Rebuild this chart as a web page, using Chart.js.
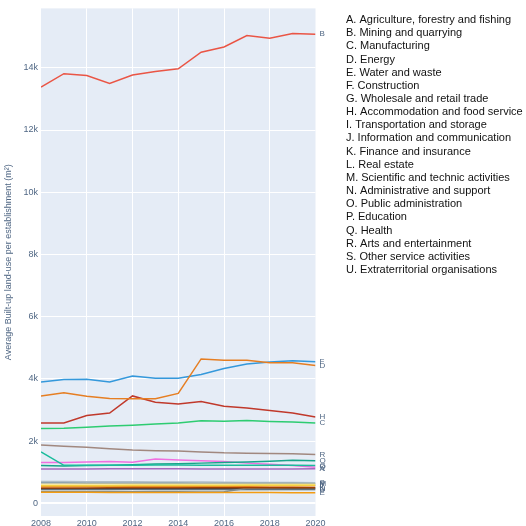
<!DOCTYPE html>
<html>
<head>
<meta charset="utf-8">
<script src="https://cdn.jsdelivr.net/npm/chart.js@4.4.1/dist/chart.umd.min.js"></script>
<style>
html, body { margin: 0; padding: 0; background: #fff; }
#wrap { width: 526px; height: 526px; }
</style>
</head>
<body>
<div id="wrap"><canvas id="chart" width="526" height="526"></canvas></div>
<script>
// Years on the x axis
const years = [2008, 2009, 2010, 2011, 2012, 2013, 2014, 2015, 2016, 2017, 2018, 2019, 2020];

// Sector names shown at the right
const sectorNames = [
    'A. Agriculture, forestry and fishing',
    'B. Mining and quarrying',
    'C. Manufacturing',
    'D. Energy',
    'E. Water and waste',
    'F. Construction',
    'G. Wholesale and retail trade',
    'H. Accommodation and food service',
    'I. Transportation and storage',
    'J. Information and communication',
    'K. Finance and insurance',
    'L. Real estate',
    'M. Scientific and technic activities',
    'N. Administrative and support',
    'O. Public administration',
    'P. Education',
    'Q. Health',
    'R. Arts and entertainment',
    'S. Other service activities',
    'U. Extraterritorial organisations'
];

// Average built-up land-use per establishment (m²), one array per sector
const valuesA = [1100, 1100, 1100, 1110, 1110, 1110, 1110, 1100, 1100, 1100, 1100, 1100, 1110];
const valuesB = [13380, 13810, 13750, 13500, 13770, 13880, 13970, 14500, 14670, 15040, 14950, 15100, 15080];
const valuesC = [2400, 2410, 2440, 2480, 2510, 2550, 2580, 2650, 2640, 2660, 2630, 2610, 2580];
const valuesD = [3450, 3550, 3440, 3370, 3360, 3360, 3530, 4640, 4600, 4600, 4520, 4520, 4430];
const valuesE = [350, 350, 350, 348, 348, 346, 346, 345, 345, 343, 342, 340, 340];
const valuesF = [3900, 3980, 3990, 3900, 4090, 4020, 4020, 4140, 4330, 4480, 4540, 4580, 4550];
const valuesG = [1650, 1220, 1220, 1220, 1220, 1230, 1230, 1220, 1220, 1220, 1220, 1220, 1210];
const valuesH = [2580, 2580, 2820, 2900, 3450, 3250, 3190, 3270, 3120, 3060, 2980, 2900, 2770];
const valuesI = [560, 562, 565, 565, 568, 570, 570, 572, 574, 575, 576, 578, 580];
const valuesJ = [530, 532, 535, 536, 538, 540, 542, 545, 548, 550, 552, 555, 560];
const valuesK = [490, 492, 493, 495, 495, 496, 497, 498, 498, 499, 500, 500, 500];
const valuesL = [380, 380, 375, 375, 370, 370, 370, 365, 370, 480, 490, 495, 495];
const valuesM = [610, 612, 612, 610, 610, 612, 612, 610, 610, 610, 610, 612, 610];
const valuesN = [470, 470, 470, 470, 470, 470, 470, 470, 470, 470, 470, 470, 470];
const valuesO = [1210, 1200, 1210, 1220, 1240, 1260, 1270, 1290, 1310, 1330, 1350, 1380, 1370];
const valuesP = [650, 648, 646, 645, 643, 640, 640, 638, 636, 635, 633, 632, 630];
const valuesQ = [1310, 1310, 1330, 1340, 1320, 1420, 1390, 1370, 1340, 1290, 1250, 1210, 1160];
const valuesR = [1870, 1830, 1800, 1750, 1710, 1690, 1680, 1650, 1620, 1610, 1600, 1590, 1570];
const valuesS = [700, 700, 695, 690, 690, 685, 680, 680, 675, 670, 670, 665, 660];
const valuesU = [440, 440, 440, 438, 438, 436, 436, 435, 435, 434, 432, 430, 430];

// Y tick values
const yTicks = [0, 2000, 4000, 6000, 8000, 10000, 12000, 14000];

const seriesList = [
    { code: 'A', values: valuesA, color: '#a569bd' },
    { code: 'B', values: valuesB, color: '#ea5545' },
    { code: 'C', values: valuesC, color: '#2ecc71' },
    { code: 'D', values: valuesD, color: '#e67e22' },
    { code: 'E', values: valuesE, color: '#f39c12' },
    { code: 'F', values: valuesF, color: '#3498db' },
    { code: 'G', values: valuesG, color: '#1abc9c' },
    { code: 'H', values: valuesH, color: '#c0392b' },
    { code: 'I', values: valuesI, color: '#f4d03f' },
    { code: 'J', values: valuesJ, color: '#e67e22' },
    { code: 'K', values: valuesK, color: '#a04000' },
    { code: 'L', values: valuesL, color: '#7f8c8d' },
    { code: 'M', values: valuesM, color: '#f9e79f' },
    { code: 'N', values: valuesN, color: '#2c3e50' },
    { code: 'O', values: valuesO, color: '#17a589' },
    { code: 'P', values: valuesP, color: '#78909c' },
    { code: 'Q', values: valuesQ, color: '#f06fe0' },
    { code: 'R', values: valuesR, color: '#a1887f' },
    { code: 'S', values: valuesS, color: '#b0bec5' },
    { code: 'U', values: valuesU, color: '#95a5a6' }
];

const datasets = seriesList.map(s => ({
    label: s.code,
    data: years.map((yr, i) => ({ x: yr, y: s.values[i] })),
    borderColor: s.color,
    backgroundColor: s.color,
    borderWidth: 1.5,
    pointRadius: 0,
    tension: 0,
    fill: false
}));

// Plot background
const plotBackground = {
    id: 'plotBackground',
    beforeDraw(chart) {
        const { ctx, chartArea: a } = chart;
        ctx.save();
        ctx.fillStyle = '#e5ecf6';
        ctx.fillRect(a.left, a.top, a.right - a.left, a.bottom - a.top);
        ctx.restore();
    }
};

// Letter at the end of each line + sector list on the right
const sideText = {
    id: 'sideText',
    afterDatasetsDraw(chart) {
        const ctx = chart.ctx;
        ctx.save();
        ctx.font = '8px "Liberation Sans", Arial, sans-serif';
        ctx.fillStyle = '#506784';
        ctx.textAlign = 'left';
        ctx.textBaseline = 'middle';
        chart.data.datasets.forEach((ds, i) => {
            const pts = chart.getDatasetMeta(i).data;
            const last = pts[pts.length - 1];
            ctx.fillText(ds.label, chart.chartArea.right + 4, last.y);
        });

        ctx.font = '11px "Liberation Sans", Arial, sans-serif';
        ctx.fillStyle = '#111';
        sectorNames.forEach((name, i) => {
            ctx.fillText(name, 346, 20 + i * 13.16);
        });
        ctx.restore();
    }
};

const ctx = document.getElementById('chart').getContext('2d');
const chart = new Chart(ctx, {
    type: 'line',
    data: { datasets: datasets },
    options: {
        responsive: false,
        animation: false,
        layout: { padding: { top: 7, right: 210.5, left: 0, bottom: 0 } },
        plugins: {
            legend: { display: false },
            tooltip: { enabled: false }
        },
        scales: {
            x: {
                type: 'linear',
                min: 2008,
                max: 2020,
                afterFit: scale => { scale.height = 10; },
                border: { display: false },
                grid: {
                    color: c => (c.tick && (c.tick.value === 2008 || c.tick.value === 2020)) ? 'rgba(0,0,0,0)' : '#ffffff',
                    lineWidth: 1,
                    drawTicks: false
                },
                ticks: {
                    stepSize: 2,
                    padding: 2,
                    maxRotation: 0,
                    color: '#506784',
                    font: { family: '"Liberation Sans", Arial, sans-serif', size: 9 },
                    callback: v => String(v)
                }
            },
            y: {
                type: 'linear',
                min: -410,
                max: 15910,
                afterFit: scale => { scale.width = 41; },
                afterBuildTicks: scale => { scale.ticks = yTicks.map(v => ({ value: v })); },
                border: { display: false },
                grid: {
                    color: '#ffffff',
                    lineWidth: c => (c.tick && c.tick.value === 0) ? 2 : 1,
                    drawTicks: false
                },
                title: {
                    display: true,
                    text: 'Average Built-up land-use per establishment (m²)',
                    color: '#506784',
                    padding: { top: 3, bottom: 0 },
                    font: { family: '"Liberation Sans", Arial, sans-serif', size: 9 }
                },
                ticks: {
                    padding: 3,
                    color: '#506784',
                    font: { family: '"Liberation Sans", Arial, sans-serif', size: 9 },
                    callback: v => v === 0 ? '0' : (v / 1000) + 'k'
                }
            }
        }
    },
    plugins: [plotBackground, sideText]
});
</script>
</body>
</html>
